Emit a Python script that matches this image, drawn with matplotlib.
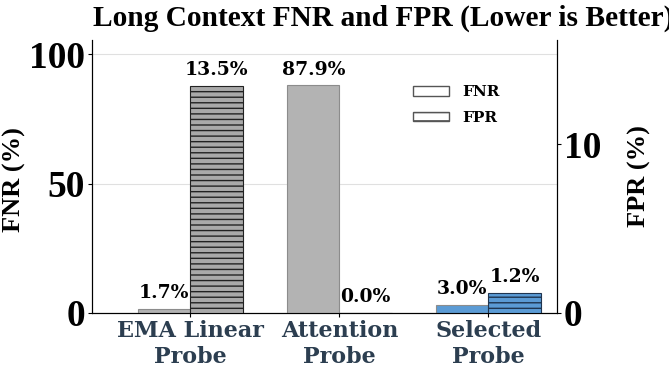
import numpy as np
import matplotlib.pyplot as plt
from matplotlib.patches import Patch

plt.rcParams['font.family'] = ['DejaVu Serif']
plt.rcParams['hatch.linewidth'] = 1.0

categories = ['EMA Linear\nProbe', 'Attention\nProbe', 'Selected\nProbe']
fnr = [1.7, 87.9, 3.0]
fpr = [13.5, 0.0, 1.2]
fnr_colors = ['#b3b3b3', '#b3b3b3', '#5b9bd5']
fpr_colors = ['#a9a9a9', '#a9a9a9', '#5b9bd5']
hatch_colors = ['#222222', '#222222', '#1f3550']

num_font = ['Liberation Serif', 'DejaVu Serif']

fig = plt.figure(figsize=(6.69, 3.72), dpi=100)
ax1 = fig.add_axes([92 / 669, 1 - 313 / 372, (557 - 92) / 669, (313 - 40) / 372])
ax2 = ax1.twinx()

x = np.arange(len(categories))
w = 0.35

ax1.bar(x - w / 2, fnr, w, color=fnr_colors, edgecolor='#8c8c8c', linewidth=0.8, zorder=3)
for i in range(len(x)):
    ax2.bar(x[i] + w / 2, fpr[i], w, color=fpr_colors[i], edgecolor=hatch_colors[i],
            hatch='---', linewidth=0.8, zorder=3)

ax1.set_ylim(0, max(fnr) * 1.2)
ax2.set_ylim(0, max(fpr) * 1.2)
ax1.set_xlim(-0.66, 2.46)
ax2.set_xlim(-0.66, 2.46)

for i in range(len(x)):
    ax1.annotate(f'{fnr[i]:.1f}%', (x[i] - w / 2, fnr[i]), xytext=(0, 5),
                 textcoords='offset points', ha='center', va='bottom',
                 fontsize=13.5, fontweight='bold')
    ax2.annotate(f'{fpr[i]:.1f}%', (x[i] + w / 2, fpr[i]), xytext=(0, 5),
                 textcoords='offset points', ha='center', va='bottom',
                 fontsize=13.5, fontweight='bold')

ax1.set_yticks([0, 50, 100])
ax2.set_yticks([0, 10])
ax1.tick_params(axis='y', labelsize=27, length=3, pad=2)
ax2.tick_params(axis='y', labelsize=27, length=3, pad=2)
for lab in ax1.get_yticklabels() + ax2.get_yticklabels():
    lab.set_fontweight('bold')
    lab.set_family(num_font)

ax1.set_xticks(x)
ax1.set_xticklabels(categories, fontsize=16, fontweight='bold', color='#2c3e50', linespacing=1.25)
ax1.tick_params(axis='x', length=3, pad=2)

ax1.set_ylabel('FNR (%)', fontsize=19, fontweight='bold', family=num_font)
ax2.set_ylabel('FPR (%)', fontsize=19, fontweight='bold', family=num_font)
ax1.yaxis.set_label_coords(-0.142, 0.49)
ax2.yaxis.set_label_coords(1.153, 0.5)

ax1.grid(axis='y', color='#e0e0e0', linewidth=0.8, zorder=0)
ax1.set_axisbelow(True)
for ax in (ax1, ax2):
    ax.spines['top'].set_visible(False)

handles = [Patch(facecolor='white', edgecolor='#555555', label='FNR'),
           Patch(facecolor='white', edgecolor='#555555', hatch='--', label='FPR')]
ax2.legend(handles=handles, loc='upper left', bbox_to_anchor=(0.66, 0.885), frameon=False,
           prop={'size': 11, 'weight': 'bold'}, handlelength=2.4, handleheight=0.6,
           labelspacing=0.76, handletextpad=0.85)

fig.text(93 / 669, 1 - 18 / 372, 'Long Context FNR and FPR (Lower is Better)',
         ha='left', va='center', fontsize=21.2, fontweight='bold', family=num_font)

fig.savefig('out.png', dpi=100)
